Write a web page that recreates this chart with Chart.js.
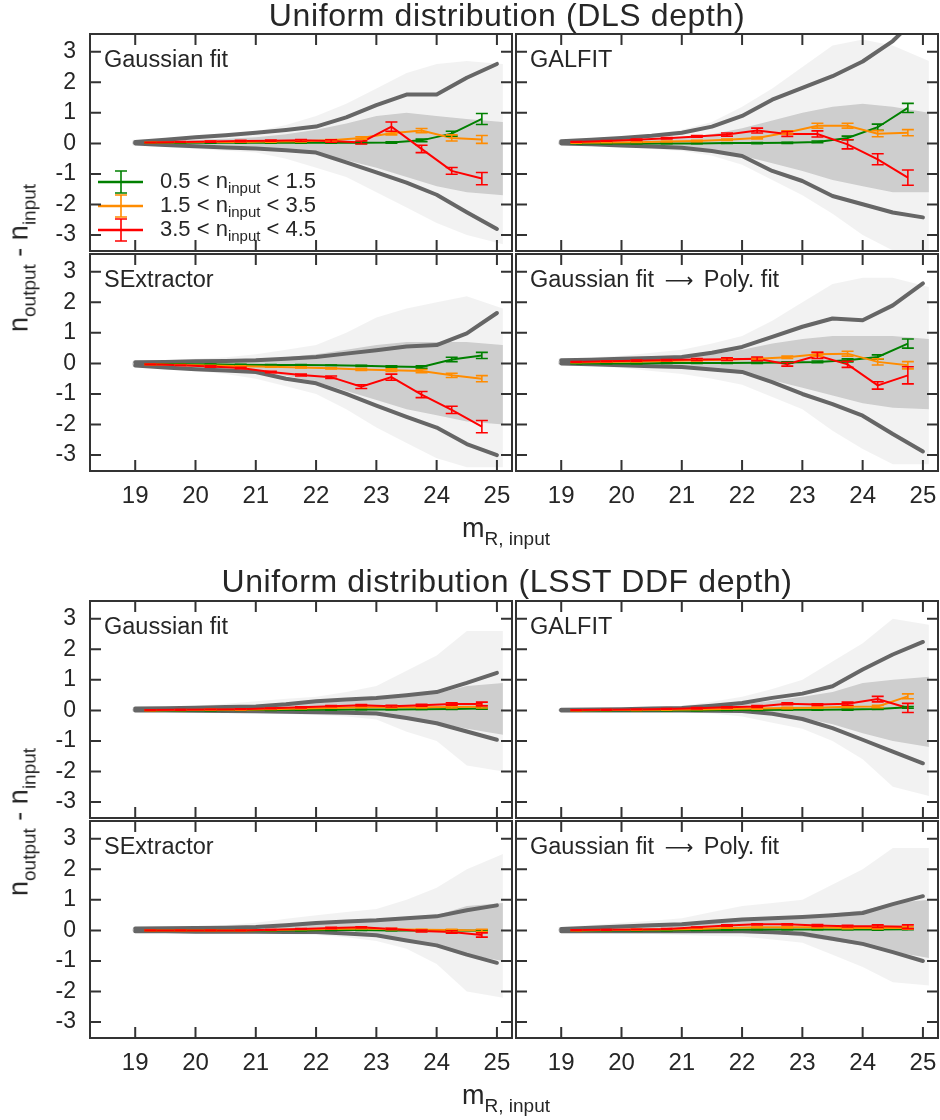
<!DOCTYPE html>
<html>
<head>
<meta charset="utf-8">
<title>Uniform distribution</title>
<script src="https://cdn.jsdelivr.net/npm/chart.js@4.4.1/dist/chart.umd.min.js"></script>
<style>
  html, body { margin: 0; padding: 0; background: #ffffff; }
  #page { position: relative; width: 940px; height: 1120px; overflow: hidden;
          font-family: "Liberation Sans", Arial, Helvetica, sans-serif; color: #262626; }
  #page canvas { position: absolute; }
  .txt { position: absolute; white-space: nowrap; line-height: 1; }
  .sub { position: relative; }
  .arrow { font-family: "DejaVu Sans", sans-serif; font-size: 20px; margin: 0 4px; }
</style>
</head>
<body>
<div id="page"></div>
<script>
// ---- axes ----
var xTicks = [19, 20, 21, 22, 23, 24, 25];
var yTicks = [-3, -2, -1, 0, 1, 2, 3];
var groupTitles = ['Uniform distribution (DLS depth)', 'Uniform distribution (LSST DDF depth)'];
var panelNames = ['Gaussian fit', 'GALFIT', 'SExtractor', 'Gaussian fit \u2192 Poly. fit'];
var seriesRanges = [['0.5', '1.5'], ['1.5', '3.5'], ['3.5', '4.5']];
var seriesColors = ['#008000', '#ff8c00', '#ff0000'];

// x positions: histogram cloud edges, envelope lines, binned means
var histX = [18.95, 19.5, 20, 20.5, 21, 21.5, 22, 22.5, 23, 23.5, 24, 24.5, 25.1];
var envX = [19, 19.5, 20, 20.5, 21, 21.5, 22, 22.5, 23, 23.5, 24, 24.5, 25];
var binX = [19.25, 19.75, 20.25, 20.75, 21.25, 21.75, 22.25, 22.75, 23.25, 23.75, 24.25, 24.75];

// ---- DLS depth ----
// cloud rows: outer upper, outer lower, dense upper, dense lower
var dlsGaussCloud = [
  [0.12, 0.15, 0.25, 0.3, 0.4, 0.6, 0.9, 1.3, 1.8, 2.3, 2.6, 2.7, 2.6],
  [-0.08, -0.12, -0.18, -0.24, -0.3, -0.5, -0.8, -1.1, -1.6, -2.1, -2.6, -3.0, -3.3],
  [0.06, 0.08, 0.12, 0.15, 0.2, 0.3, 0.45, 0.65, 0.9, 1.0, 0.9, 0.8, 0.7],
  [-0.02, -0.04, -0.06, -0.08, -0.12, -0.2, -0.35, -0.55, -0.8, -1.1, -1.4, -1.6, -1.7]
];
var dlsGaussEnvelope = [
  [0.05, 0.12, 0.2, 0.27, 0.35, 0.44, 0.55, 0.85, 1.25, 1.6, 1.6, 2.15, 2.6],
  [0.0, -0.05, -0.09, -0.13, -0.17, -0.22, -0.3, -0.62, -0.95, -1.28, -1.68, -2.25, -2.8]
];
var dlsGaussMeans = [
  [0.02, 0.02, 0.02, 0.02, 0.02, 0.02, 0.02, 0.02, 0.03, 0.10, 0.32, 0.80],
  [0.03, 0.04, 0.05, 0.05, 0.06, 0.07, 0.10, 0.18, 0.33, 0.42, 0.18, 0.13],
  [0.03, 0.05, 0.06, 0.08, 0.09, 0.10, 0.08, 0.03, 0.55, -0.18, -0.90, -1.15]
];
var dlsGaussErrors = [
  [0.01, 0.01, 0.01, 0.01, 0.01, 0.01, 0.01, 0.02, 0.02, 0.04, 0.08, 0.18],
  [0.01, 0.01, 0.01, 0.01, 0.02, 0.02, 0.03, 0.04, 0.05, 0.07, 0.10, 0.13],
  [0.01, 0.01, 0.02, 0.02, 0.02, 0.03, 0.04, 0.05, 0.15, 0.12, 0.11, 0.20]
];

var dlsGalfitCloud = [
  [0.12, 0.15, 0.22, 0.3, 0.45, 0.7, 1.2, 1.8, 2.5, 3.2, 3.4, 3.2, 2.7],
  [-0.06, -0.08, -0.12, -0.18, -0.25, -0.4, -0.7, -1.2, -1.7, -2.3, -3.0, -3.5, -3.5],
  [0.06, 0.08, 0.1, 0.14, 0.2, 0.3, 0.5, 0.75, 1.0, 1.2, 1.3, 1.2, 1.0],
  [-0.02, -0.03, -0.05, -0.07, -0.1, -0.2, -0.4, -0.65, -0.9, -1.2, -1.4, -1.6, -1.6]
];
var dlsGalfitEnvelope = [
  [0.07, 0.12, 0.18, 0.25, 0.35, 0.55, 0.9, 1.43, 1.82, 2.2, 2.68, 3.35, 4.3],
  [0.0, -0.03, -0.07, -0.1, -0.14, -0.25, -0.41, -0.9, -1.23, -1.72, -1.99, -2.26, -2.42]
];
var dlsGalfitMeans = [
  [0.00, 0.00, 0.00, 0.00, 0.00, 0.01, 0.01, 0.02, 0.05, 0.18, 0.53, 1.16],
  [0.02, 0.03, 0.04, 0.06, 0.08, 0.12, 0.18, 0.36, 0.58, 0.58, 0.32, 0.35],
  [0.05, 0.08, 0.12, 0.17, 0.23, 0.29, 0.42, 0.31, 0.31, -0.03, -0.52, -1.12]
];
var dlsGalfitErrors = [
  [0.01, 0.01, 0.01, 0.01, 0.01, 0.01, 0.02, 0.02, 0.03, 0.06, 0.10, 0.15],
  [0.01, 0.01, 0.01, 0.01, 0.02, 0.02, 0.03, 0.05, 0.08, 0.08, 0.10, 0.10],
  [0.01, 0.01, 0.02, 0.02, 0.03, 0.05, 0.08, 0.08, 0.10, 0.15, 0.18, 0.25]
];

var dlsSexCloud = [
  [0.08, 0.1, 0.15, 0.2, 0.3, 0.45, 0.6, 1.0, 1.5, 1.8, 2.0, 2.2, 1.8],
  [-0.1, -0.15, -0.25, -0.35, -0.5, -0.75, -1.0, -1.5, -2.1, -2.6, -3.1, -3.4, -3.4],
  [0.03, 0.04, 0.05, 0.07, 0.1, 0.2, 0.3, 0.45, 0.6, 0.7, 0.7, 0.7, 0.6],
  [-0.06, -0.1, -0.15, -0.2, -0.25, -0.4, -0.6, -0.9, -1.2, -1.5, -1.7, -1.9, -2.0]
];
var dlsSexEnvelope = [
  [0.04, 0.05, 0.07, 0.08, 0.1, 0.15, 0.21, 0.32, 0.43, 0.55, 0.6, 0.98, 1.65],
  [-0.07, -0.13, -0.19, -0.23, -0.28, -0.5, -0.65, -1.0, -1.38, -1.75, -2.1, -2.64, -3.0]
];
var dlsSexMeans = [
  [-0.02, -0.03, -0.03, -0.04, -0.05, -0.05, -0.06, -0.08, -0.10, -0.12, 0.13, 0.26],
  [-0.03, -0.05, -0.07, -0.09, -0.11, -0.13, -0.16, -0.20, -0.22, -0.25, -0.39, -0.50],
  [-0.03, -0.06, -0.10, -0.15, -0.28, -0.38, -0.45, -0.76, -0.45, -1.02, -1.52, -2.07]
];
var dlsSexErrors = [
  [0.01, 0.01, 0.01, 0.01, 0.01, 0.01, 0.01, 0.02, 0.02, 0.04, 0.07, 0.10],
  [0.01, 0.01, 0.01, 0.01, 0.01, 0.02, 0.02, 0.03, 0.04, 0.05, 0.07, 0.10],
  [0.01, 0.01, 0.02, 0.02, 0.02, 0.03, 0.04, 0.06, 0.10, 0.10, 0.12, 0.20]
];

var dlsPolyCloud = [
  [0.15, 0.2, 0.25, 0.35, 0.45, 0.65, 0.9, 1.4, 2.0, 2.6, 2.8, 2.8, 2.5],
  [-0.06, -0.1, -0.15, -0.25, -0.35, -0.5, -0.7, -1.1, -1.5, -2.2, -2.8, -3.3, -3.3],
  [0.08, 0.1, 0.12, 0.15, 0.2, 0.3, 0.45, 0.65, 0.8, 0.9, 0.9, 0.9, 0.8],
  [-0.02, -0.04, -0.06, -0.1, -0.15, -0.22, -0.35, -0.55, -0.8, -1.05, -1.3, -1.45, -1.5]
];
var dlsPolyEnvelope = [
  [0.1, 0.12, 0.15, 0.18, 0.21, 0.35, 0.54, 0.87, 1.2, 1.47, 1.41, 1.9, 2.62],
  [0.0, -0.03, -0.06, -0.09, -0.12, -0.2, -0.28, -0.61, -1.0, -1.33, -1.71, -2.31, -2.88]
];
var dlsPolyMeans = [
  [0.00, 0.00, 0.00, 0.01, 0.01, 0.01, 0.02, 0.03, 0.05, 0.10, 0.21, 0.65],
  [0.03, 0.05, 0.06, 0.08, 0.10, 0.12, 0.15, 0.20, 0.30, 0.32, 0.05, -0.06],
  [0.05, 0.07, 0.09, 0.11, 0.13, 0.14, 0.15, -0.03, 0.26, -0.03, -0.72, -0.39]
];
var dlsPolyErrors = [
  [0.01, 0.01, 0.01, 0.01, 0.01, 0.01, 0.02, 0.02, 0.03, 0.05, 0.07, 0.15],
  [0.01, 0.01, 0.01, 0.01, 0.02, 0.02, 0.03, 0.04, 0.06, 0.08, 0.10, 0.12],
  [0.01, 0.01, 0.02, 0.02, 0.03, 0.04, 0.06, 0.06, 0.10, 0.10, 0.12, 0.28]
];

// ---- LSST DDF depth ----
var lsstGaussCloud = [
  [0.1, 0.12, 0.15, 0.22, 0.3, 0.38, 0.45, 0.6, 0.8, 1.3, 1.8, 2.6, 2.6],
  [-0.05, -0.06, -0.08, -0.09, -0.1, -0.12, -0.15, -0.2, -0.3, -0.7, -1.0, -1.8, -2.0],
  [0.05, 0.06, 0.07, 0.09, 0.12, 0.18, 0.25, 0.3, 0.35, 0.45, 0.55, 0.8, 0.9],
  [-0.01, -0.01, -0.02, -0.02, -0.03, -0.04, -0.05, -0.07, -0.1, -0.25, -0.4, -0.6, -0.8]
];
var lsstGaussEnvelope = [
  [0.06, 0.07, 0.09, 0.11, 0.13, 0.2, 0.3, 0.36, 0.41, 0.5, 0.6, 0.9, 1.23],
  [0.0, 0.0, -0.01, -0.02, -0.03, -0.04, -0.06, -0.08, -0.1, -0.25, -0.42, -0.69, -0.96]
];
var lsstGaussMeans = [
  [0.00, 0.00, 0.00, 0.01, 0.01, 0.02, 0.02, 0.03, 0.03, 0.04, 0.05, 0.06],
  [0.00, 0.01, 0.02, 0.02, 0.04, 0.06, 0.08, 0.10, 0.10, 0.10, 0.11, 0.12],
  [0.01, 0.02, 0.03, 0.04, 0.07, 0.10, 0.14, 0.17, 0.14, 0.17, 0.21, 0.21]
];
var lsstGaussErrors = [
  [0.01, 0.01, 0.01, 0.01, 0.01, 0.01, 0.01, 0.01, 0.01, 0.01, 0.02, 0.02],
  [0.01, 0.01, 0.01, 0.01, 0.01, 0.01, 0.01, 0.01, 0.02, 0.02, 0.03, 0.04],
  [0.01, 0.01, 0.01, 0.01, 0.01, 0.02, 0.02, 0.02, 0.03, 0.03, 0.04, 0.06]
];

var lsstGalfitCloud = [
  [0.05, 0.06, 0.08, 0.1, 0.15, 0.28, 0.45, 0.7, 1.0, 1.6, 2.2, 3.0, 2.8],
  [-0.02, -0.02, -0.03, -0.04, -0.05, -0.1, -0.2, -0.4, -0.6, -1.0, -1.6, -2.5, -2.8],
  [0.03, 0.03, 0.04, 0.05, 0.07, 0.12, 0.2, 0.32, 0.45, 0.6, 0.9, 1.0, 1.1],
  [-0.01, -0.01, -0.01, -0.02, -0.02, -0.03, -0.05, -0.12, -0.25, -0.45, -0.75, -1.0, -1.2]
];
var lsstGalfitEnvelope = [
  [0.02, 0.03, 0.04, 0.06, 0.08, 0.15, 0.24, 0.41, 0.55, 0.79, 1.34, 1.83, 2.24],
  [0.0, 0.0, 0.0, 0.0, 0.0, -0.01, -0.02, -0.11, -0.28, -0.58, -0.96, -1.35, -1.73]
];
var lsstGalfitMeans = [
  [0.00, 0.00, 0.00, 0.00, 0.00, 0.01, 0.01, 0.02, 0.02, 0.03, 0.05, 0.10],
  [0.00, 0.01, 0.01, 0.02, 0.03, 0.05, 0.06, 0.08, 0.09, 0.12, 0.13, 0.46],
  [0.01, 0.02, 0.03, 0.05, 0.07, 0.10, 0.13, 0.22, 0.19, 0.22, 0.37, 0.08]
];
var lsstGalfitErrors = [
  [0.01, 0.01, 0.01, 0.01, 0.01, 0.01, 0.01, 0.01, 0.01, 0.02, 0.02, 0.03],
  [0.01, 0.01, 0.01, 0.01, 0.01, 0.01, 0.02, 0.02, 0.02, 0.03, 0.04, 0.08],
  [0.01, 0.01, 0.01, 0.01, 0.02, 0.02, 0.03, 0.03, 0.03, 0.05, 0.09, 0.15]
];

var lsstSexCloud = [
  [0.08, 0.1, 0.12, 0.18, 0.25, 0.38, 0.5, 0.6, 0.7, 1.0, 1.4, 2.0, 2.5],
  [-0.05, -0.06, -0.07, -0.08, -0.1, -0.12, -0.15, -0.22, -0.35, -0.6, -1.1, -2.0, -2.2],
  [0.04, 0.05, 0.06, 0.08, 0.1, 0.15, 0.2, 0.25, 0.3, 0.4, 0.5, 0.8, 0.9],
  [-0.02, -0.02, -0.03, -0.03, -0.04, -0.04, -0.05, -0.1, -0.15, -0.3, -0.5, -0.8, -1.0]
];
var lsstSexEnvelope = [
  [0.06, 0.07, 0.08, 0.09, 0.11, 0.17, 0.24, 0.29, 0.33, 0.4, 0.46, 0.66, 0.82],
  [-0.03, -0.03, -0.04, -0.04, -0.04, -0.05, -0.05, -0.1, -0.16, -0.33, -0.49, -0.79, -1.06]
];
var lsstSexMeans = [
  [0.00, 0.00, 0.00, 0.00, 0.00, 0.00, 0.01, 0.01, 0.00, 0.00, 0.00, -0.01],
  [0.00, 0.00, 0.00, 0.00, 0.01, 0.03, 0.05, 0.06, 0.04, 0.02, 0.01, 0.00],
  [0.00, 0.00, 0.00, 0.00, 0.02, 0.05, 0.08, 0.10, 0.05, -0.02, -0.05, -0.15]
];
var lsstSexErrors = [
  [0.01, 0.01, 0.01, 0.01, 0.01, 0.01, 0.01, 0.01, 0.01, 0.01, 0.02, 0.02],
  [0.01, 0.01, 0.01, 0.01, 0.01, 0.01, 0.01, 0.01, 0.02, 0.02, 0.03, 0.04],
  [0.01, 0.01, 0.01, 0.01, 0.01, 0.01, 0.02, 0.02, 0.02, 0.03, 0.04, 0.07]
];

var lsstPolyCloud = [
  [0.1, 0.18, 0.25, 0.32, 0.4, 0.6, 0.8, 0.9, 1.0, 1.5, 2.0, 2.7, 2.7],
  [-0.05, -0.07, -0.1, -0.12, -0.15, -0.18, -0.2, -0.3, -0.4, -0.8, -1.2, -1.7, -1.8],
  [0.05, 0.08, 0.12, 0.16, 0.2, 0.28, 0.35, 0.4, 0.45, 0.55, 0.65, 0.9, 1.0],
  [-0.02, -0.02, -0.03, -0.03, -0.05, -0.05, -0.05, -0.1, -0.2, -0.35, -0.5, -0.7, -0.9]
];
var lsstPolyEnvelope = [
  [0.05, 0.09, 0.13, 0.17, 0.2, 0.28, 0.36, 0.4, 0.44, 0.5, 0.57, 0.86, 1.12],
  [-0.03, -0.03, -0.03, -0.03, -0.03, -0.03, -0.03, -0.06, -0.11, -0.27, -0.44, -0.71, -1.0]
];
var lsstPolyMeans = [
  [0.00, 0.00, 0.00, 0.00, 0.01, 0.02, 0.03, 0.03, 0.03, 0.03, 0.03, 0.04],
  [0.00, 0.01, 0.02, 0.03, 0.05, 0.08, 0.10, 0.10, 0.10, 0.08, 0.08, 0.08],
  [0.01, 0.02, 0.03, 0.05, 0.10, 0.16, 0.20, 0.20, 0.16, 0.14, 0.14, 0.12]
];
var lsstPolyErrors = [
  [0.01, 0.01, 0.01, 0.01, 0.01, 0.01, 0.01, 0.01, 0.01, 0.01, 0.02, 0.02],
  [0.01, 0.01, 0.01, 0.01, 0.01, 0.01, 0.01, 0.02, 0.02, 0.02, 0.03, 0.04],
  [0.01, 0.01, 0.01, 0.01, 0.01, 0.02, 0.02, 0.02, 0.03, 0.03, 0.04, 0.06]
];

// ---- layout ----
var PW = 422, PH = 217, PAD = 4, YW = 86, XH = 44;
var TICK_LEN = 11, CAP = 6;
var FRAME = '#333333';
var GREY_LINE = '#666666';
var CLOUD_OUT = 'rgba(0, 0, 0, 0.05)';
var CLOUD_IN = 'rgba(0, 0, 0, 0.15)';
var FONT = '"Liberation Sans", Arial, Helvetica, sans-serif';

var panels = [
  { name: 0, left: 90, top: 34, yAxis: true, xAxis: false, legend: true,
    cloud: dlsGaussCloud, env: dlsGaussEnvelope, means: dlsGaussMeans, errors: dlsGaussErrors },
  { name: 1, left: 516, top: 34, yAxis: false, xAxis: false,
    cloud: dlsGalfitCloud, env: dlsGalfitEnvelope, means: dlsGalfitMeans, errors: dlsGalfitErrors },
  { name: 2, left: 90, top: 254, yAxis: true, xAxis: true,
    cloud: dlsSexCloud, env: dlsSexEnvelope, means: dlsSexMeans, errors: dlsSexErrors },
  { name: 3, left: 516, top: 254, yAxis: false, xAxis: true,
    cloud: dlsPolyCloud, env: dlsPolyEnvelope, means: dlsPolyMeans, errors: dlsPolyErrors },
  { name: 0, left: 90, top: 601, yAxis: true, xAxis: false,
    cloud: lsstGaussCloud, env: lsstGaussEnvelope, means: lsstGaussMeans, errors: lsstGaussErrors },
  { name: 1, left: 516, top: 601, yAxis: false, xAxis: false,
    cloud: lsstGalfitCloud, env: lsstGalfitEnvelope, means: lsstGalfitMeans, errors: lsstGalfitErrors },
  { name: 2, left: 90, top: 821, yAxis: true, xAxis: true,
    cloud: lsstSexCloud, env: lsstSexEnvelope, means: lsstSexMeans, errors: lsstSexErrors },
  { name: 3, left: 516, top: 821, yAxis: false, xAxis: true,
    cloud: lsstPolyCloud, env: lsstPolyEnvelope, means: lsstPolyMeans, errors: lsstPolyErrors }
];

var page = document.getElementById('page');

function pts(xs, ys) {
  return xs.map(function (x, i) { return { x: x, y: ys[i] }; });
}

function buildDatasets(p) {
  var ds = [];
  // 2D histogram cloud as two nested shaded bands
  ds.push({ data: pts(histX, p.cloud[0]), borderWidth: 0, pointRadius: 0, fill: false, order: 10 });
  ds.push({ data: pts(histX, p.cloud[1]), borderWidth: 0, pointRadius: 0, fill: '-1', backgroundColor: CLOUD_OUT, order: 10 });
  ds.push({ data: pts(histX, p.cloud[2]), borderWidth: 0, pointRadius: 0, fill: false, order: 9 });
  ds.push({ data: pts(histX, p.cloud[3]), borderWidth: 0, pointRadius: 0, fill: '-1', backgroundColor: CLOUD_IN, order: 9 });
  p.env.forEach(function (row) {
    ds.push({ data: pts(envX, row), borderColor: GREY_LINE, borderWidth: 4, pointRadius: 0, fill: false,
              borderCapStyle: 'round', borderJoinStyle: 'round', order: 5 });
  });
  p.means.forEach(function (row, k) {
    ds.push({ data: pts(binX, row), borderColor: seriesColors[k], borderWidth: 2, pointRadius: 0,
              fill: false, order: 3 - k });
  });
  return ds;
}

var panelPlugin = {
  id: 'panelDecor',
  afterDatasetsDraw: function (chart, args, opts) {
    var p = opts.panel;
    var ctx = chart.ctx, xs = chart.scales.x, ys = chart.scales.y, a = chart.chartArea;
    ctx.save();
    // error bars
    ctx.lineWidth = 1.6;
    p.means.forEach(function (row, k) {
      ctx.strokeStyle = seriesColors[k];
      row.forEach(function (v, i) {
        var e = p.errors[k][i];
        var px = xs.getPixelForValue(binX[i]);
        var y1 = ys.getPixelForValue(v + e), y2 = ys.getPixelForValue(v - e);
        ctx.beginPath();
        ctx.moveTo(px, y1); ctx.lineTo(px, y2);
        ctx.moveTo(px - CAP, y1); ctx.lineTo(px + CAP, y1);
        ctx.moveTo(px - CAP, y2); ctx.lineTo(px + CAP, y2);
        ctx.stroke();
      });
    });
    // legend handles
    if (p.legend) {
      [148, 172, 196].forEach(function (dy, k) {
        var y = a.top + dy, cx = a.left + 31;
        ctx.strokeStyle = seriesColors[k];
        ctx.lineWidth = 2.5;
        ctx.beginPath(); ctx.moveTo(a.left + 8, y); ctx.lineTo(a.left + 53, y); ctx.stroke();
        ctx.lineWidth = 1.6;
        ctx.beginPath();
        ctx.moveTo(cx, y - 11); ctx.lineTo(cx, y + 11);
        ctx.moveTo(cx - CAP, y - 11); ctx.lineTo(cx + CAP, y - 11);
        ctx.moveTo(cx - CAP, y + 11); ctx.lineTo(cx + CAP, y + 11);
        ctx.stroke();
      });
    }
    // inward ticks and frame
    ctx.strokeStyle = FRAME;
    ctx.lineWidth = 2;
    ctx.beginPath();
    xs.ticks.forEach(function (t) {
      var px = xs.getPixelForValue(t.value);
      ctx.moveTo(px, a.top); ctx.lineTo(px, a.top + TICK_LEN);
      ctx.moveTo(px, a.bottom); ctx.lineTo(px, a.bottom - TICK_LEN);
    });
    ys.ticks.forEach(function (t) {
      var py = ys.getPixelForValue(t.value);
      ctx.moveTo(a.left, py); ctx.lineTo(a.left + TICK_LEN, py);
      ctx.moveTo(a.right, py); ctx.lineTo(a.right - TICK_LEN, py);
    });
    ctx.stroke();
    ctx.strokeRect(a.left, a.top, a.right - a.left, a.bottom - a.top);
    ctx.restore();
  }
};

function tickList(values) {
  return function (scale) {
    scale.ticks = values.map(function (v) { return { value: v }; });
  };
}

panels.forEach(function (p) {
  var cv = document.createElement('canvas');
  var w = PW + 2 * PAD + (p.yAxis ? YW : 0);
  var h = PH + 2 * PAD + (p.xAxis ? XH : 0);
  cv.width = w; cv.height = h;
  cv.style.width = w + 'px'; cv.style.height = h + 'px';
  cv.style.left = (p.left - PAD - (p.yAxis ? YW : 0)) + 'px';
  cv.style.top = (p.top - PAD) + 'px';
  page.appendChild(cv);

  new Chart(cv, {
    type: 'line',
    data: { datasets: buildDatasets(p) },
    plugins: [panelPlugin],
    options: {
      responsive: false,
      animation: false,
      events: [],
      layout: { padding: PAD },
      plugins: { legend: { display: false }, tooltip: { enabled: false }, panelDecor: { panel: p } },
      elements: { line: { tension: 0 } },
      scales: {
        x: {
          type: 'linear', position: 'bottom', min: 18.25, max: 25.25, display: p.xAxis,
          grid: { display: false, drawTicks: false }, border: { display: false },
          afterBuildTicks: tickList(xTicks),
          afterFit: function (s) {
            s.height = p.xAxis ? XH : 0;
            s.paddingLeft = 0; s.paddingRight = 0;
          },
          ticks: { padding: 11, color: '#262626', font: { family: FONT, size: 24 }, maxRotation: 0,
                   callback: function (v) { return String(v); } }
        },
        y: {
          type: 'linear', position: 'left', min: -3.52, max: 3.58, display: p.yAxis,
          grid: { display: false, drawTicks: false }, border: { display: false },
          afterBuildTicks: tickList(yTicks),
          afterFit: function (s) {
            s.width = p.yAxis ? YW : 0;
            s.paddingTop = 0; s.paddingBottom = 0;
          },
          ticks: { padding: 14, color: '#262626', font: { family: FONT, size: 23 },
                   callback: function (v) { return String(v); } }
        }
      }
    }
  });
});

// ---- text (kept as real text) ----
function addText(html, x, baseline, size, center, spacing) {
  var d = document.createElement('div');
  d.className = 'txt';
  d.style.fontSize = size + 'px';
  if (spacing) d.style.letterSpacing = spacing + 'px';
  d.style.left = x + 'px';
  d.style.top = (baseline - 0.8465 * size) + 'px';
  if (center) d.style.transform = 'translateX(-50%)';
  d.innerHTML = html;
  page.appendChild(d);
  return d;
}
function sub(t, size, drop) {
  return '<span class="sub" style="font-size:' + size + 'px;top:' + drop + 'px">' + t + '</span>';
}

addText(groupTitles[0], 507, 26, 32, true, 0.6);
addText(groupTitles[1], 507, 592, 32, true, 0.6);

panels.forEach(function (p) {
  var name = panelNames[p.name].replace(' \u2192 ', ' <span class="arrow">\u27F6</span> ');
  addText(name, p.left + 14, p.top + 33.5, 23.5, false);
  if (p.legend) {
    seriesRanges.forEach(function (r, k) {
      addText(r[0] + ' &lt; n' + sub('input', 15, 5) + ' &lt; ' + r[1], p.left + 70, p.top + 154.5 + 24.3 * k, 22, false);
    });
  }
});

var xLabel = 'm' + sub('R, input', 19, 8);
addText(xLabel, 506, 538, 27, true);
addText(xLabel, 506, 1105, 27, true);

function addYLabel(cy) {
  var d = document.createElement('div');
  d.className = 'txt';
  d.style.fontSize = '27px';
  d.style.left = '18.6px';
  d.style.top = cy + 'px';
  d.style.transform = 'translate(-50%, -50%) rotate(-90deg)';
  d.innerHTML = 'n' + sub('output', 19, 8) + ' - n' + sub('input', 19, 8);
  page.appendChild(d);
}
addYLabel(258);
addYLabel(822);
</script>
</body>
</html>
